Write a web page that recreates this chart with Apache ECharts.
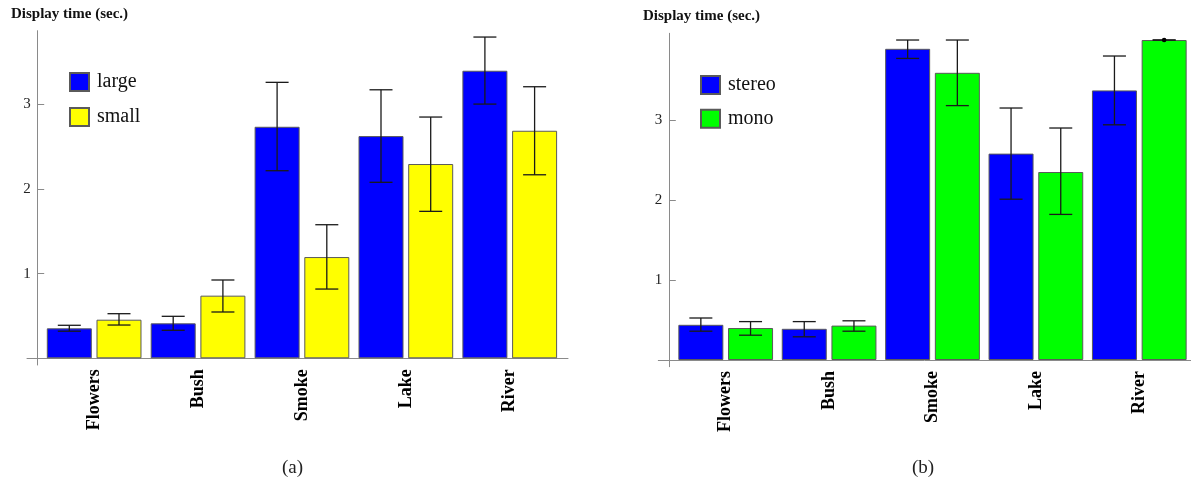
<!DOCTYPE html>
<html><head><meta charset="utf-8">
<script src="https://cdn.jsdelivr.net/npm/echarts@6/dist/echarts.min.js"></script>
<style>html,body{margin:0;padding:0;background:#fff}#c{width:1191px;height:485px}</style>
</head><body><div id="c"></div>
<script>
// ---- data ----
const categories = ['Flowers', 'Bush', 'Smoke', 'Lake', 'River'];
const yTicks = [1, 2, 3];
const axisTitle = 'Display time (sec.)';

const largeValues = [0.354, 0.413, 2.735, 2.625, 3.397];
const largeLow    = [0.320, 0.331, 2.216, 2.079, 3.003];
const largeHigh   = [0.390, 0.496, 3.260, 3.172, 3.795];

const smallValues = [0.456, 0.740, 1.196, 2.295, 2.688];
const smallLow    = [0.393, 0.547, 0.818, 1.736, 2.168];
const smallHigh   = [0.527, 0.925, 1.578, 2.850, 3.208];

const stereoValues = [0.440, 0.390, 3.890, 2.580, 3.370];
const stereoLow    = [0.360, 0.290, 3.770, 2.010, 2.940];
const stereoHigh   = [0.525, 0.480, 4.000, 3.150, 3.800];

const monoValues = [0.400, 0.430, 3.590, 2.350, 4.000];
const monoLow    = [0.310, 0.360, 3.180, 1.820, 4.000];
const monoHigh   = [0.480, 0.490, 4.000, 2.900, 4.000];

// ---- style constants ----
const SERIF = 'Liberation Serif, Times New Roman, serif';
const BAR_W = 45, BAR_GAP = 4.7, CAP = 11.5;
const AXIS_COLOR = '#8a8a8a';
const ERR_COLOR = '#1a1a1a';

function errRender(side) {
  return function (params, api) {
    const i = api.value(0), lo = api.value(1), hi = api.value(2);
    const pLo = api.coord([i, lo]);
    const pHi = api.coord([i, hi]);
    const x = pLo[0] + side * (BAR_W + BAR_GAP) / 2;
    const st = { stroke: ERR_COLOR, lineWidth: 1.3 };
    const children = [
      { type: 'line', shape: { x1: x, y1: pLo[1], x2: x, y2: pHi[1] }, style: st },
      { type: 'line', shape: { x1: x - CAP, y1: pHi[1], x2: x + CAP, y2: pHi[1] }, style: st },
      { type: 'line', shape: { x1: x - CAP, y1: pLo[1], x2: x + CAP, y2: pLo[1] }, style: st }
    ];
    if (hi - lo < 1e-6) {
      children.push({ type: 'circle', shape: { cx: x, cy: pHi[1], r: 2.3 }, style: { fill: '#000' } });
    }
    return { type: 'group', children: children };
  };
}

function errData(lo, hi) {
  return lo.map((v, i) => [i, v, hi[i]]);
}

function panel(p) {
  const gMain = p.index * 2, gAxes = p.index * 2 + 1;
  const grids = [
    { left: p.left, width: p.width, top: p.top, height: p.height },
    { left: p.axLeft, width: p.axWidth, top: p.top, height: p.axHeight }
  ];
  const xAxes = [
    {
      type: 'category', gridIndex: gMain, data: categories,
      axisLine: { show: false }, axisTick: { show: false },
      axisLabel: { interval: 0, rotate: 90, margin: 11, fontFamily: SERIF, fontWeight: 'bold', fontSize: 18, color: '#000' },
      splitLine: { show: false }
    },
    {
      type: 'value', gridIndex: gAxes, min: p.axXMin, max: p.axXMax,
      axisLine: { show: true, onZero: true, lineStyle: { color: AXIS_COLOR, width: 1 } },
      axisTick: { show: false }, axisLabel: { show: false }, splitLine: { show: false }
    }
  ];
  const yAxes = [
    {
      type: 'value', gridIndex: gMain, min: 0, max: p.yMax, offset: p.yOffset,
      axisLine: { show: false },
      axisTick: { show: true, inside: true, length: 6.5, customValues: yTicks, lineStyle: { color: AXIS_COLOR } },
      axisLabel: { customValues: yTicks, margin: 7, fontFamily: SERIF, fontSize: 15, color: '#222' },
      splitLine: { show: false }
    },
    {
      type: 'value', gridIndex: gAxes, min: p.axYMin, max: p.yMax,
      axisLine: { show: true, onZero: true, lineStyle: { color: AXIS_COLOR, width: 1 } },
      axisTick: { show: false }, axisLabel: { show: false }, splitLine: { show: false }
    }
  ];
  const series = [];
  p.groups.forEach((g, k) => {
    series.push({
      type: 'bar', name: g.name, xAxisIndex: gMain, yAxisIndex: gMain,
      data: g.values, barWidth: BAR_W, barGap: (BAR_GAP / BAR_W * 100).toFixed(2) + '%',
      itemStyle: { color: g.color, borderColor: '#5a5a5a', borderWidth: 1 },
      z: 2
    });
  });
  p.groups.forEach((g, k) => {
    series.push({
      type: 'custom', name: g.name + ' error', xAxisIndex: gMain, yAxisIndex: gMain,
      renderItem: errRender(k === 0 ? -1 : 1),
      encode: { x: 0, y: [1, 2] },
      data: errData(g.low, g.high),
      z: 5, silent: true
    });
  });
  const legend = {
    data: p.groups.map(g => g.name), orient: 'vertical', left: p.legLeft, top: p.legTop,
    itemWidth: 19, itemHeight: 18, itemGap: p.legGap, icon: 'rect', padding: 0, selectedMode: false,
    textStyle: { fontFamily: SERIF, fontSize: 20, color: '#111', lineHeight: 18, padding: [0, 0, 0, 3] }
  };
  const titles = [
    { text: axisTitle, left: p.titleLeft, top: p.titleTop, padding: 0,
      textStyle: { fontFamily: SERIF, fontWeight: 'bold', fontSize: 15, color: '#111' } },
    { text: p.caption, left: p.capLeft, top: 459, padding: 0,
      textStyle: { fontFamily: SERIF, fontWeight: 'normal', fontSize: 19, color: '#222' } }
  ];
  return { grids, xAxes, yAxes, series, legend, titles };
}

const pa = panel({
  index: 0, left: 42.2, width: 519.5, top: 30.7, height: 327.6,
  axLeft: 27, axWidth: 541, axHeight: 334.3, axXMin: -10.7, axXMax: 530.3, axYMin: -0.079,
  yMax: 3.87, yOffset: 4.5,
  legLeft: 69, legTop: 72, legGap: 15,
  titleLeft: 11, titleTop: 7, caption: '(a)', capLeft: 282,
  groups: [
    { name: 'large', color: '#0000ff', values: largeValues, low: largeLow, high: largeHigh },
    { name: 'small', color: '#ffff00', values: smallValues, low: smallLow, high: smallHigh }
  ]
});
const pb = panel({
  index: 1, left: 674, width: 517.8, top: 33.3, height: 326.7,
  axLeft: 658.3, axWidth: 532.7, axHeight: 333.4, axXMin: -11, axXMax: 521.7, axYMin: -0.084,
  yMax: 4.084, yOffset: 4.7,
  legLeft: 700, legTop: 75, legGap: 13.7,
  titleLeft: 643, titleTop: 8.5, caption: '(b)', capLeft: 912,
  groups: [
    { name: 'stereo', color: '#0000ff', values: stereoValues, low: stereoLow, high: stereoHigh },
    { name: 'mono', color: '#00ff00', values: monoValues, low: monoLow, high: monoHigh }
  ]
});

const chart = echarts.init(document.getElementById('c'), null, { renderer: 'canvas' });
chart.setOption({
  animation: false,
  backgroundColor: '#fff',
  title: pa.titles.concat(pb.titles),
  legend: [pa.legend, pb.legend],
  grid: pa.grids.concat(pb.grids),
  xAxis: pa.xAxes.concat(pb.xAxes),
  yAxis: pa.yAxes.concat(pb.yAxes),
  series: pa.series.concat(pb.series)
});
</script>
</body></html>
